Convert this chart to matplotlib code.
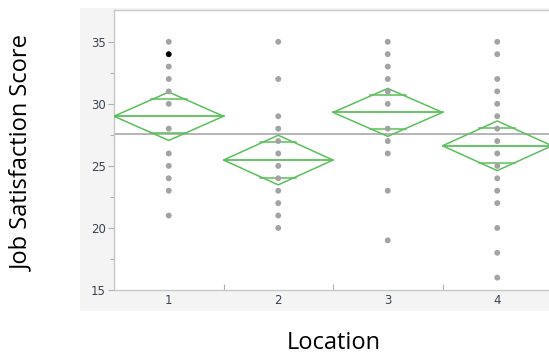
import matplotlib
matplotlib.use("Agg")
import matplotlib.pyplot as plt
from matplotlib.patches import Rectangle, Polygon
import numpy as np

locations = ["1", "2", "3", "4"]
scores = {
    "1": [35, 34, 33, 32, 31, 30, 28, 26, 25, 24, 23, 21],
    "2": [35, 32, 29, 28, 27, 26, 25, 24, 23, 22, 21, 20],
    "3": [35, 34, 33, 32, 31, 30, 28, 27, 26, 23, 19],
    "4": [35, 34, 32, 31, 30, 29, 28, 27, 26, 25, 24, 23, 22, 20, 18, 16],
}
highlight = ("1", 34)
group_means = [29.0, 25.47, 29.31, 26.62]
ci_half = [1.95, 2.0, 1.93, 2.0]
grand_mean = 27.56
yticks = [15, 20, 25, 30, 35]

W, H = 549, 356
fig = plt.figure(figsize=(W / 100, H / 100), dpi=100)
bg = Rectangle((80 / W, 1 - 311 / H), 1 - 80 / W, (311 - 8) / H,
               transform=fig.transFigure, facecolor="#f4f4f4",
               edgecolor="none", zorder=-10)
fig.patches.append(bg)
ax = fig.add_axes([114 / W, 1 - 290 / H, (552 - 114) / W, (290 - 9.5) / H])
ax.set_zorder(1)
ax.set_facecolor("white")
ax.set_xlim(0.5, 4.5)
ax.set_ylim(15, 37.6)

green = "#5cbf5c"
for i, loc in enumerate(locations):
    x = i + 1
    m, h = group_means[i], ci_half[i]
    diamond = Polygon([[x - 0.5, m], [x, m + h], [x + 0.5, m], [x, m - h]],
                      closed=True, fill=False, edgecolor=green, lw=1.1, zorder=3)
    ax.add_patch(diamond)
    ax.plot([x - 0.5, x + 0.5], [m, m], color=green, lw=1.3, zorder=3)
    o = h / np.sqrt(2)
    for yy in (m + o, m - o):
        frac = 1 - o / h + 0.04
        ax.plot([x - 0.5 * frac, x + 0.5 * frac], [yy, yy], color=green, lw=1.1, zorder=3)
    ys = scores[loc]
    cols = ["black" if (loc, v) == highlight else "#a3a3a3" for v in ys]
    ax.scatter([x] * len(ys), ys, s=18, c=cols, edgecolors="none", zorder=4)

ax.axhline(grand_mean, color="#a8a8a8", lw=1.2, zorder=2)

for s in ["left", "bottom", "top"]:
    ax.spines[s].set_color("#c8c8c8")
    ax.spines[s].set_linewidth(1.0)
ax.spines["right"].set_visible(False)

ax.set_yticks(yticks)
ax.set_yticks([17.5, 22.5, 27.5, 32.5], minor=True)
ax.set_xticks([1, 2, 3, 4])
ax.set_xticklabels(locations)
ax.set_xticks([1.5, 2.5, 3.5], minor=True)
ax.tick_params(axis="both", which="major", labelsize=8.5, labelcolor="#3c4450",
               color="#b0b0b0", length=4, width=0.8)
ax.tick_params(axis="y", which="minor", color="#b0b0b0", length=3, width=0.8)
ax.tick_params(axis="x", which="major", length=0, pad=3)
ax.tick_params(axis="x", which="minor", color="#b0b0b0", length=4, width=0.8, direction="in")
ax.tick_params(axis="y", which="major", pad=2)

fig.text(22 / W, 1 - 153 / H, "Job Satisfaction Score", rotation=90, ha="center",
         va="center", fontsize=17, family="Open Sans", color="black")
fig.text(334 / W, 1 - 343 / H, "Location", ha="center", va="center",
         fontsize=17, family="Open Sans", color="black")

fig.savefig("out.png", dpi=100)
